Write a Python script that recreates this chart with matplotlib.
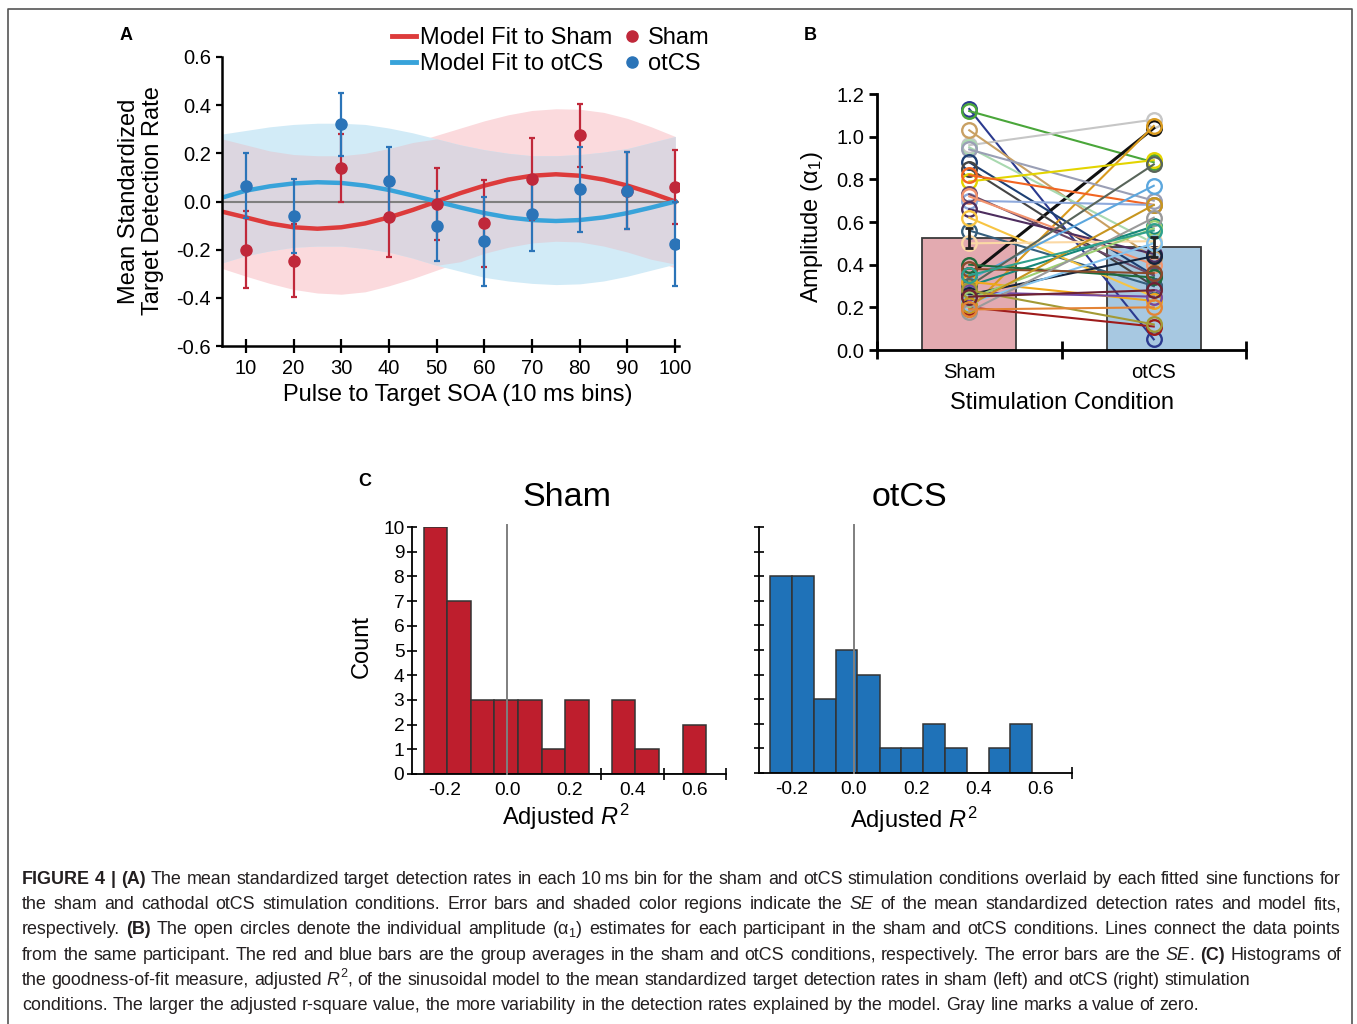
import re
import numpy as np
import matplotlib
matplotlib.use('Agg')
import matplotlib.pyplot as plt
from matplotlib.lines import Line2D
from matplotlib import font_manager

plt.rcParams['font.family'] = ['Liberation Sans', 'DejaVu Sans']
plt.rcParams['axes.unicode_minus'] = False
plt.rcParams['mathtext.fontset'] = 'custom'
plt.rcParams['mathtext.rm'] = 'Liberation Sans'
plt.rcParams['mathtext.it'] = 'Liberation Sans:italic'
plt.rcParams['mathtext.bf'] = 'Liberation Sans:bold'

# ---- panel A data ----
soa = [10, 20, 30, 40, 50, 60, 70, 80, 90, 100]
sham_mean = [-0.20, -0.245, 0.14, -0.065, -0.01, -0.09, 0.095, 0.275, 0.045, 0.06]
sham_se = [0.16, 0.15, 0.14, 0.165, 0.15, 0.18, 0.17, 0.13, 0.16, 0.155]
otcs_mean = [0.065, -0.06, 0.32, 0.085, -0.10, -0.165, -0.05, 0.05, 0.045, -0.175]
otcs_se = [0.135, 0.155, 0.13, 0.14, 0.145, 0.185, 0.155, 0.175, 0.16, 0.175]

fit_x = [5, 10, 15, 20, 25, 30, 35, 40, 45, 50, 55, 60, 65, 70, 75, 80, 85, 90, 95, 100]
sham_fit = [-0.042, -0.066, -0.091, -0.107, -0.113, -0.107, -0.091, -0.066, -0.035, 0.0,
            0.035, 0.066, 0.091, 0.107, 0.113, 0.107, 0.091, 0.066, 0.035, 0.0]
otcs_fit = [0.016, 0.045, 0.063, 0.075, 0.08, 0.077, 0.066, 0.048, 0.025, 0.0,
            -0.025, -0.048, -0.066, -0.077, -0.081, -0.077, -0.066, -0.048, -0.025, 0.0]
sham_upper = [0.26, 0.235, 0.21, 0.195, 0.19, 0.19, 0.2, 0.22, 0.245, 0.275,
              0.305, 0.335, 0.36, 0.378, 0.385, 0.383, 0.37, 0.345, 0.31, 0.27]
sham_lower = [-0.278, -0.31, -0.34, -0.365, -0.38, -0.385, -0.375, -0.35, -0.32, -0.285,
              -0.25, -0.215, -0.19, -0.172, -0.165, -0.168, -0.185, -0.21, -0.24, -0.276]
otcs_upper = [0.28, 0.295, 0.31, 0.32, 0.325, 0.325, 0.32, 0.305, 0.285, 0.26,
              0.235, 0.215, 0.2, 0.19, 0.19, 0.195, 0.205, 0.22, 0.245, 0.27]
otcs_lower = [-0.255, -0.225, -0.205, -0.19, -0.185, -0.185, -0.195, -0.21, -0.235, -0.265,
              -0.29, -0.315, -0.33, -0.34, -0.345, -0.342, -0.33, -0.31, -0.285, -0.26]

# ---- panel B data ----
conditions = ['Sham', 'otCS']
group_mean = [0.525, 0.484]
group_se = [0.047, 0.047]
amp_sham = [1.13, 1.12, 0.96, 1.03, 0.35, 0.19, 0.95, 0.94, 0.88, 0.85, 0.79, 0.82,
            0.70, 0.73, 0.72, 0.66, 0.56, 0.62, 0.50, 0.30, 0.33, 0.30, 0.20, 0.40,
            0.32, 0.27, 0.26, 0.24, 0.22, 0.38, 0.28, 0.21, 0.18, 0.35, 0.25, 0.19]
amp_otcs = [0.05, 0.88, 1.08, 0.43, 1.04, 1.05, 0.50, 0.70, 0.35, 0.30, 0.89, 0.68,
            0.68, 0.35, 0.40, 0.45, 0.30, 0.25, 0.51, 0.58, 0.77, 0.87, 0.11, 0.34,
            0.23, 0.25, 0.44, 0.57, 0.50, 0.36, 0.12, 0.68, 0.62, 0.56, 0.28, 0.20]
subj_colors = ['#2b3a8f', '#4aa63a', '#c6c6c6', '#c9a063', '#111111', '#d99a1e',
               '#a9d9b0', '#9a9fb5', '#1d3f73', '#454545', '#e3d400', '#f26522',
               '#8faadc', '#6b4a68', '#f3956f', '#4d2d5e', '#365f7d', '#f7c443',
               '#fbd9a5', '#16877a', '#5ca7de', '#58655a', '#9e1b1b', '#1f6b3c',
               '#f0a81c', '#7447a3', '#14243d', '#9ccf72', '#84c3ef', '#8b4a2b',
               '#a39a35', '#c7961f', '#9a9a9a', '#2fa08c', '#6e2233', '#e38436']

# ---- panel C data ----
sham_edges = [-0.267, -0.192, -0.116, -0.041, 0.034, 0.110, 0.185, 0.260, 0.335, 0.410, 0.486, 0.561, 0.636]
sham_counts = [10, 7, 3, 3, 3, 1, 3, 0, 3, 1, 0, 2]
otcs_edges = [-0.269, -0.199, -0.129, -0.059, 0.011, 0.082, 0.152, 0.222, 0.292, 0.362, 0.432, 0.502, 0.572]
otcs_counts = [8, 8, 3, 5, 4, 1, 1, 2, 1, 0, 1, 2]

caption = [
    "<b>FIGURE 4 | (A)</b> The mean standardized target detection rates in each 10\u2009ms bin for the sham and otCS stimulation conditions overlaid by each fitted sine functions for",
    "the sham and cathodal otCS stimulation conditions. Error bars and shaded color regions indicate the <i>SE</i> of the mean standardized detection rates and model fits,",
    "respectively. <b>(B)</b> The open circles denote the individual amplitude (\u03b1$_1$) estimates for each participant in the sham and otCS conditions. Lines connect the data points",
    "from the same participant. The red and blue bars are the group averages in the sham and otCS conditions, respectively. The error bars are the <i>SE</i>. <b>(C)</b> Histograms of",
    "the goodness-of-fit measure, adjusted <i>R</i>$^2$, of the sinusoidal model to the mean standardized target detection rates in sham (left) and otCS (right) stimulation",
    "conditions. The larger the adjusted r-square value, the more variability in the detection rates explained by the model. Gray line marks a value of zero.",
]

W, H = 1357, 1024


def px_box(l, t, r, b):
    return [l / W, 1 - b / H, (r - l) / W, (b - t) / H]


fig = plt.figure(figsize=(W / 100, H / 100), dpi=100)


def ftext(x, y, s, **kw):
    return fig.text(x / W, 1 - y / H, s, **kw)


# frame around the figure part
fig.add_artist(Line2D([8 / W, 8 / W, 1352 / W, 1352 / W], [0, 1 - 9 / H, 1 - 9 / H, 0],
                      transform=fig.transFigure, color='#555555', lw=1.2))

TICK = 14.5
LAB = 17

# ================= A =================
axA = fig.add_axes(px_box(222, 57, 679, 346))
fx = np.array(fit_x)
su, sl = np.array(sham_upper), np.array(sham_lower)
ou, ol = np.array(otcs_upper), np.array(otcs_lower)
axA.fill_between(fx, sl, su, color='#fbdadd', lw=0)
axA.fill_between(fx, ol, ou, color='#d2ebf7', lw=0)
lo, hi = np.maximum(sl, ol), np.minimum(su, ou)
axA.fill_between(fx, lo, hi, where=hi > lo, color='#dcd6e0', lw=0)
axA.axhline(0, color='#7f7f7f', lw=1.5)
axA.plot(fx, sham_fit, color='#dd3b3b', lw=3.2)
axA.plot(fx, otcs_fit, color='#38a3da', lw=3.2)
axA.errorbar(soa, sham_mean, yerr=sham_se, fmt='o', color='#c0283a', ms=8,
             elinewidth=1.6, capsize=2.5, capthick=1.6)
axA.errorbar(soa, otcs_mean, yerr=otcs_se, fmt='o', color='#2b74b8', ms=8,
             elinewidth=1.6, capsize=2.5, capthick=1.6)
axA.set_xlim(5, 100.8)
axA.set_ylim(-0.6, 0.6)
axA.set_xticks(soa)
yt = [-0.6, -0.4, -0.2, 0.0, 0.2, 0.4, 0.6]
axA.set_yticks(yt)
axA.set_yticklabels(['%.1f' % v for v in yt])
axA.tick_params(axis='x', direction='inout', length=10, width=1.6, labelsize=TICK, pad=4)
axA.tick_params(axis='y', direction='out', length=4, width=1.6, labelsize=TICK, pad=4)
for s in ['top', 'right']:
    axA.spines[s].set_visible(False)
for s in ['left', 'bottom']:
    axA.spines[s].set_linewidth(1.8)

handles = [Line2D([0], [0], color='#dd3b3b', lw=3.5),
           Line2D([0], [0], color='#38a3da', lw=3.5),
           Line2D([0], [0], ls='none', marker='o', color='#c0283a', ms=8),
           Line2D([0], [0], ls='none', marker='o', color='#2b74b8', ms=8)]
fig.legend(handles, ['Model Fit to Sham', 'Model Fit to otCS', 'Sham', 'otCS'], ncol=2,
           loc='upper left', bbox_to_anchor=(392 / W, 1 - 27 / H), frameon=False,
           fontsize=LAB, handlelength=1.0, handletextpad=0.17, columnspacing=0.35,
           labelspacing=0.16, borderpad=0, borderaxespad=0)

ftext(141, 201, 'Mean Standardized\nTarget Detection Rate', rotation=90, ha='center',
      va='center', fontsize=LAB, multialignment='center', linespacing=1.15)
ftext(458, 395, 'Pulse to Target SOA (10 ms bins)', ha='center', va='center', fontsize=LAB)

# ================= B =================
axB = fig.add_axes(px_box(877, 94, 1246, 350))
cx = [0.5, 1.5]
axB.bar(cx, group_mean, width=0.51, color=['#e3aab0', '#a7c8e1'], edgecolor='#3a3a3a',
        lw=1.3, zorder=1)
for s_val, o_val, c in zip(amp_sham, amp_otcs, subj_colors):
    lw = 2.2 if c == '#111111' else 1.5
    axB.plot(cx, [s_val, o_val], color=c, lw=lw, marker='o', ms=10.5, mfc='none',
             mew=1.7, zorder=3)
axB.errorbar(cx, group_mean, yerr=group_se, fmt='none', ecolor='#222222', elinewidth=2,
             capsize=3, capthick=2, zorder=6)
axB.set_xlim(0, 2)
axB.set_ylim(0, 1.2)
axB.set_xticks([0, 1, 2])
axB.set_xticklabels([])
axB.set_xticks(cx, minor=True)
axB.set_xticklabels(conditions, minor=True)
axB.tick_params(axis='x', which='major', direction='inout', length=13, width=2)
axB.tick_params(axis='x', which='minor', length=0, labelsize=TICK, pad=9)
ybt = [0.0, 0.2, 0.4, 0.6, 0.8, 1.0, 1.2]
axB.set_yticks(ybt)
axB.set_yticklabels(['%.1f' % v for v in ybt])
axB.tick_params(axis='y', direction='out', length=6, width=2, labelsize=TICK, pad=3)
for s in ['top', 'right']:
    axB.spines[s].set_visible(False)
for s in ['left', 'bottom']:
    axB.spines[s].set_linewidth(2)
ftext(812, 227, 'Amplitude (\u03b1$_1$)', rotation=90, ha='center', va='center', fontsize=LAB)
ftext(1062, 403, 'Stimulation Condition', ha='center', va='center', fontsize=LAB)

# ================= C =================
def hist_panel(box, edges, counts, color, minor_ticks, show_labels):
    ax = fig.add_axes(px_box(*box))
    e = np.array(edges)
    ax.bar(e[:-1], counts, width=np.diff(e), align='edge', color=color,
           edgecolor='#333333', lw=1.1, zorder=2)
    ax.plot([0, 0], [0, 10.1], color='#7f7f7f', lw=1.4, zorder=3, clip_on=False)
    ax.set_xlim(-0.305, 0.7)
    ax.set_ylim(0, 10)
    xt = [-0.2, 0.0, 0.2, 0.4, 0.6]
    ax.set_xticks(xt)
    ax.set_xticklabels(['%.1f' % v for v in xt])
    ax.set_xticks(minor_ticks, minor=True)
    ax.tick_params(axis='x', which='major', length=0, labelsize=TICK - 0.7, pad=6)
    ax.tick_params(axis='x', which='minor', direction='inout', length=8, width=1.2)
    ax.set_yticks(range(11))
    ax.tick_params(axis='y', direction='inout', length=7, width=1.2, labelsize=TICK - 0.7,
                   pad=2, labelleft=show_labels)
    for s in ['top', 'right']:
        ax.spines[s].set_visible(False)
    for s in ['left', 'bottom']:
        ax.spines[s].set_linewidth(1.3)
    return ax


hist_panel((412, 527, 726, 774), sham_edges, sham_counts, '#be1e2d', [0.3, 0.5, 0.7], True)
hist_panel((759, 527, 1072, 773), otcs_edges, otcs_counts, '#1f72b8', [0.4, 0.6, 0.7], False)
ftext(567, 497, 'Sham', ha='center', va='center', fontsize=24.5)
ftext(909, 497, 'otCS', ha='center', va='center', fontsize=24.5)
ftext(362, 646, 'Count', rotation=90, ha='center', va='center', fontsize=LAB)
ftext(566, 817, 'Adjusted $R^{\\mathregular{2}}$', ha='center', va='center', fontsize=LAB)
ftext(914, 820, 'Adjusted $R^{\\mathregular{2}}$', ha='center', va='center', fontsize=LAB)

for lab, x, y in [('A', 126, 36), ('B', 810, 36), ('C', 365, 481)]:
    ftext(x, y, lab, ha='center', va='center', fontsize=13, fontweight='bold')

# ================= caption (justified) =================
names = {f.name for f in font_manager.fontManager.ttflist}
cap_family = ['Liberation Sans Narrow', 'DejaVu Sans'] if 'Liberation Sans Narrow' in names \
    else ['Liberation Sans', 'DejaVu Sans']
renderer = fig.canvas.get_renderer()


def parse(markup):
    words, bold, ital = [[]], False, False
    for tok in re.split(r'(</?[bi]>| )', markup):
        if tok == '<b>':
            bold = True
        elif tok == '</b>':
            bold = False
        elif tok == '<i>':
            ital = True
        elif tok == '</i>':
            ital = False
        elif tok == ' ':
            words.append([])
        elif tok:
            words[-1].append((tok, bold, ital))
    return [w for w in words if w]


def width_of(s, size, bold=False, ital=False):
    t = fig.text(0, 0, s, family=cap_family, fontsize=size,
                 fontweight='bold' if bold else 'normal',
                 fontstyle='italic' if ital else 'normal')
    w = t.get_window_extent(renderer).width
    t.remove()
    return w


def line_width(markup, size):
    words = parse(markup)
    sp = width_of('a a', size) - width_of('aa', size)
    return sum(width_of(p, size, b, i) for w in words for p, b, i in w) + sp * (len(words) - 1)


base = 12.0
cap_size = base * 1177 / line_width(caption[5], base)
left, right = 22, 1341
space = width_of('a a', cap_size) - width_of('aa', cap_size)
for k, markup in enumerate(caption):
    y = 884 + k * 25.2
    words = parse(markup)
    widths = [[width_of(p, cap_size, b, i) for p, b, i in w] for w in words]
    total = sum(sum(ws) for ws in widths)
    gap = (right - left - total) / (len(words) - 1) if k < 4 else space
    x = left
    for w, ws in zip(words, widths):
        for (p, b, i), pw in zip(w, ws):
            ftext(x, y, p, family=cap_family, fontsize=cap_size, va='baseline', ha='left',
                  fontweight='bold' if b else 'normal', fontstyle='italic' if i else 'normal',
                  color='#231f20')
            x += pw
        x += gap

fig.savefig('out.png', dpi=100)
